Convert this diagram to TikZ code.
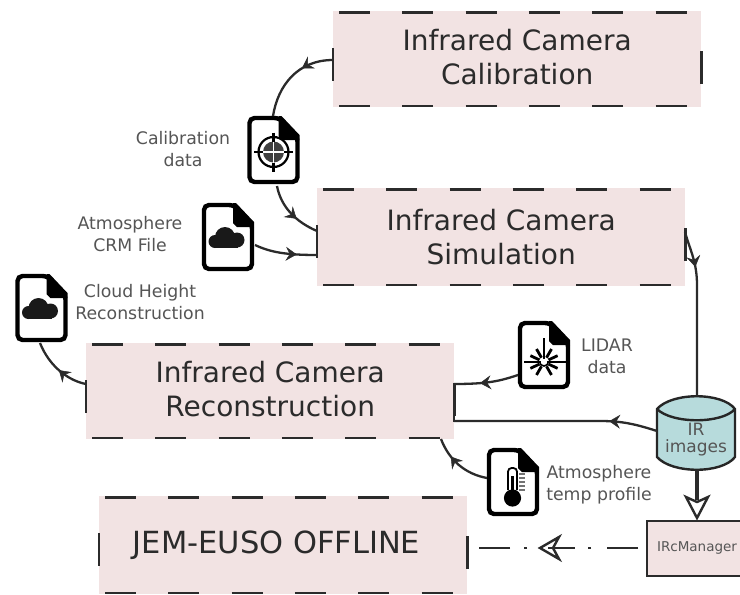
\documentclass[tikz,border=0pt]{standalone}
\usepackage{fontspec}
\setmainfont{DejaVu Sans}
\usetikzlibrary{arrows.meta,decorations.markings,calc}
\definecolor{boxpink}{HTML}{F2E3E3}
\definecolor{cylblue}{HTML}{B7DBDC}
\definecolor{inkdark}{HTML}{2B2B2B}
\definecolor{labelgray}{HTML}{555555}
\tikzset{
  x=1pt,y=-1pt,
  procbox/.style={fill=boxpink,minimum width=368pt,minimum height=96pt,inner sep=0pt,align=center,text=inkdark,font=\fontsize{28}{34}\selectfont,anchor=north west},
  edgedash/.style={draw=inkdark,line width=2.6pt},
  filenode/.style={minimum width=54pt,minimum height=70pt,inner sep=0pt},
  flabel/.style={align=center,text=labelgray,font=\fontsize{17.3}{22}\selectfont,inner sep=0pt},
  conn/.style={draw=inkdark,line width=2.3pt},
  barb/.style={postaction={decorate,decoration={markings,mark=at position #1 with {\arrow[inkdark,line width=0.5pt]{Stealth[inset=4pt,length=11pt,width=14pt]}}}}},
  fileoutline/.style={draw=black,line width=4.4pt,rounded corners=5pt,fill=white},
  pics/fileicon/.style={code={
    \path[fileoutline] (-24,-32) -- (6,-32) -- (24,-13) -- (24,32) -- (-24,32) -- cycle;
    \fill[black] (5,-34) -- (8,-34) -- (26,-15) -- (26,-10) -- (9,-10) -- (5,-14) -- cycle;
  }},
  pics/cloudglyph/.style={code={
    \fill[black!90] (-13,4.5) circle (6.5) (-3,0) circle (10) (9,3) circle (7.5);
    \fill[black!90] (-14,3) rectangle (10,10.8);
  }},
  pics/targetglyph/.style={code={
    \draw[black,line width=2.2pt] (0,0) circle (15);
    \fill[black!75] (0,0) circle (10.5);
    \draw[white,line width=1.6pt] (-10.5,0) -- (10.5,0) (0,-10.5) -- (0,10.5);
    \draw[black,line width=2.4pt] (-19.5,0) -- (-10.5,0) (10.5,0) -- (19.5,0) (0,-19.5) -- (0,-10.5) (0,10.5) -- (0,19.5);
  }},
  pics/thermoglyph/.style={code={
    \draw[black,line width=1.8pt,rounded corners=3.6pt] (-5,8) -- (-5,-14) -- (4,-14) -- (4,8);
    \fill[black] (-0.5,16) circle (8.6);
    \fill[black] (-1.8,-6) rectangle (0.8,12);
    \draw[black!55,line width=1.2pt] (6,-8) -- (12,-8) (6,-4) -- (12,-4) (6,0) -- (12,0) (6,4) -- (12,4) (6,8) -- (12,8);
  }},
  pics/laserglyph/.style={code={
    \begin{scope}[yshift=-7pt]
    \foreach \a in {25,60,120,155,205,240,270,300,335}{
      \draw[black,line width=2.8pt] (\a:5) -- (\a:15);
    }
    \draw[black,line width=1.8pt] (0,-24) -- (0,0);
    \draw[black,line width=1.8pt] (-20,0) -- (22,0);
    \fill[white] (0,0) circle (3.2);
    \draw[black,line width=1.6pt] (-4.5,-0.5) arc[start angle=180,end angle=360,x radius=4.5,y radius=-4.5];
    \end{scope}
  }},
}
\newcommand{\procframe}[1]{%
  \foreach \i in {0,1,2,3,4,5}{
    \draw[edgedash] ($(#1.north west)+(6+63.3*\i,1.5)$) -- ++(31,0);
    \draw[edgedash] ($(#1.south west)+(6+63.3*\i,-1.5)$) -- ++(31,0);
  }
  \draw[edgedash] ($(#1.north west)+(0,37)$) -- ++(0,33);
  \draw[edgedash] ($(#1.north east)+(0,40)$) -- ++(0,33);
}
\newcommand{\liftstrut}{\rule[-5pt]{0pt}{5pt}}
\begin{document}
\begin{tikzpicture}
\clip (0,0) rectangle (740,595);
\useasboundingbox (0,0) rectangle (740,595);
\fill[white] (0,0) rectangle (740,595);

% boxes
\node[procbox] (calib) at (333,11) {Infrared Camera\\Calibration\liftstrut};
\node[procbox,minimum height=98pt] (sim) at (317,188) {Infrared Camera\\Simulation};
\node[procbox] (recon) at (86,343) {Infrared Camera\\Reconstruction\liftstrut};
\node[procbox,minimum height=98pt] (jem) at (99,496) {};
\node[text=inkdark,font=\fontsize{30.5}{34}\selectfont,inner sep=0pt] (jemtxt) at (276.5,545) {JEM-EUSO OFFLINE};
\procframe{calib}\procframe{sim}\procframe{recon}\procframe{jem}

% file icons
\node[filenode] (fcal) at (273.5,150) {};
\node[filenode] (fcrm) at (228,237) {};
\node[filenode] (fchr) at (41.5,308) {};
\node[filenode] (flid) at (544,355) {};
\node[filenode] (ftmp) at (513,482) {};
\pic at (fcal) {fileicon}; \pic at ($(fcal)+(0,2)$) {targetglyph};
\pic at (fcrm) {fileicon}; \pic at (fcrm) {cloudglyph};
\pic at (fchr) {fileicon}; \pic at (fchr) {cloudglyph};
\pic at (flid) {fileicon}; \pic at (flid) {laserglyph};
\pic at (ftmp) {fileicon}; \pic at (ftmp) {thermoglyph};

% labels
\node[flabel] (lcal) at (183,149) {Calibration\\data};
\node[flabel] (lcrm) at (130,234) {Atmosphere\\CRM File};
\node[flabel] (lchr) at (140,302) {Cloud Height\\Reconstruction};
\node[flabel] (llid) at (607,356) {LIDAR\\data};
\node[flabel] (ltmp) at (599,485) {Atmosphere\\temp profile};

% cylinder
\node[minimum width=80pt,minimum height=74pt,inner sep=0pt] (cyl) at (696,433) {};
\path[draw=black!85,fill=cylblue,line width=2.4pt,line join=miter]
  (657,409) .. controls (672,392) and (722,392) .. (735,409)
  -- (735,457) .. controls (722,474) and (672,474) .. (657,457) -- cycle;
\draw[black!85,line width=2.4pt] (657,409) .. controls (672,424) and (722,424) .. (735,409);
\node[align=center,text=labelgray,font=\fontsize{17}{17}\selectfont,inner sep=0pt] (cyltxt) at (696,440) {IR\\images};

% IRcManager
\node[draw=inkdark,line width=2.4pt,fill=boxpink,minimum width=110pt,minimum height=55pt,inner sep=0pt,anchor=north west] (mgr) at (646,520) {};
\node[text=labelgray,font=\fontsize{13.5}{14}\selectfont,inner sep=0pt] (mgrtxt) at (697,548) {IRcManager};

% named connector ends
\coordinate (c1s) at (333,60);
\coordinate (c1e) at (273,116);
\coordinate (c2s) at (277,186);
\coordinate (c2e) at (317,231);
\coordinate (c3s) at (255,245);
\coordinate (c3e) at (317,255);
\coordinate (c4s) at (685,232);
\coordinate (c4e) at (697,396);
\coordinate (c5s) at (518,375);
\coordinate (c5e) at (454,384);
\coordinate (c6s) at (657,431);
\coordinate (c6e) at (454,421);
\coordinate (c7s) at (487,478);
\coordinate (c7e) at (441,439);
\coordinate (c8s) at (86,384);
\coordinate (c8e) at (40,343);
\coordinate (c9s) at (697,470);
\coordinate (c9e) at (697,518);
\coordinate (c10s) at (645,548);
\coordinate (c10e) at (467,548);

\draw[conn,barb=0.36] (c1s) .. controls (298,60) and (278,85) .. (c1e);
\draw[conn,barb=0.62] (c2s) .. controls (281,207) and (296,222) .. (c2e);
\draw[conn,barb=0.68] (c3s) .. controls (270,252) and (285,255) .. (c3e);
\draw[conn,barb=0.22] (c4s) .. controls (690,250) and (697,262) .. (697,285) -- (c4e);
\draw[conn,barb=0.60] (c5s) .. controls (500,381) and (488,384) .. (c5e);
\draw[conn,barb=0.24] (c6s) .. controls (635,424) and (622,421) .. (600,421) -- (c6e);
\draw[conn,barb=0.68] (c7s) .. controls (465,474) and (449,460) .. (c7e);
\draw[conn,barb=0.48] (c8s) .. controls (70,381) and (50,368) .. (c8e);
\draw[conn,line cap=rect] (c5e) -- (c6e);

% bottom arrow
\draw[inkdark,line width=3.2pt] (c9s) -- (697,500);
\path[draw=inkdark,fill=white,line width=2.4pt,line join=miter] (c9e) -- (686,497) -- (697,502) -- (708,497) -- cycle;

% dash-dot arrow
\draw[inkdark,line width=2.4pt,dash pattern=on 31pt off 16pt on 3pt off 14pt,dash phase=57pt] (c10s) -- (c10e);
\path[draw=inkdark,fill=white,line width=2.4pt,line join=miter] (540,548) -- (559,537) -- (553,548) -- (559,559) -- cycle;
\draw[inkdark,line width=2.4pt] (548,548) -- (575,548);
\end{tikzpicture}
\end{document}
